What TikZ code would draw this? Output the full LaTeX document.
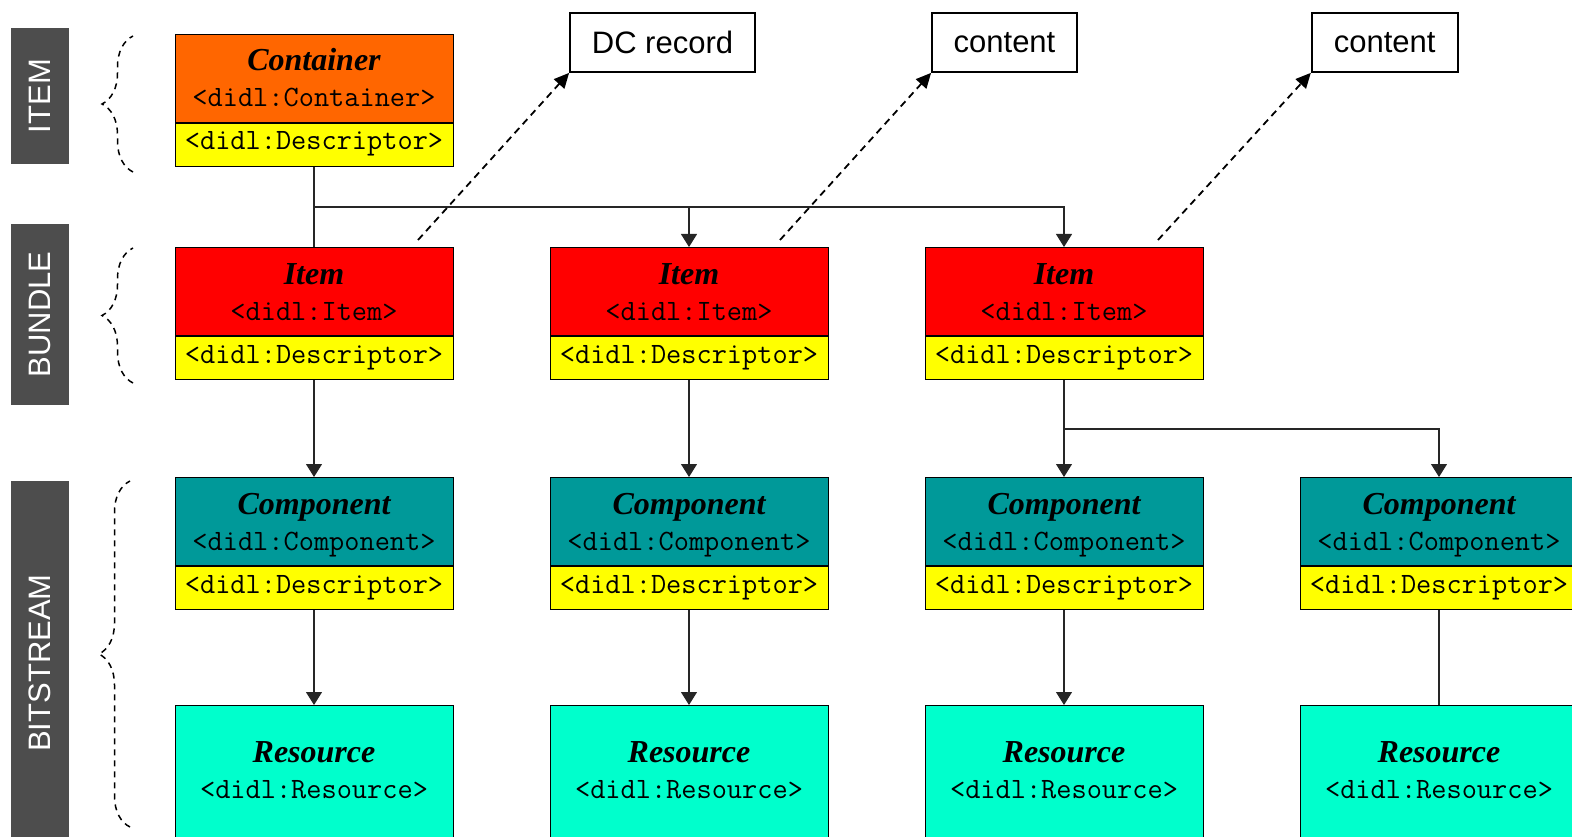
\documentclass[tikz,border=0pt]{standalone}
\usepackage{fontspec}
\setmainfont{Liberation Serif}
\newfontfamily\labelfont{Liberation Sans}
\usetikzlibrary{arrows.meta,decorations.pathreplacing}

\definecolor{containerc}{HTML}{FF6600}
\definecolor{itemc}{HTML}{FF0000}
\definecolor{componentc}{HTML}{009999}
\definecolor{resourcec}{HTML}{00FFCC}
\definecolor{descc}{HTML}{FFFF00}
\definecolor{bandc}{HTML}{4D4D4D}

% one DIDL element: coloured head plus its yellow descriptor strip
% #1 name, #2 centre x, #3 top y, #4 fill, #5 title, #6 tag
\newcommand\didlelem[6]{%
  \node[head, fill=#4] (#1) at (#2,#3) {};
  \node[desc] (#1d) at (#1.south) {};
  \node[ttl] (#1t) at (#2,#3+37) {#5};
  \node[tag] (#1g) at (#2,#3+73) {#6};
  \node[tag] (#1k) at (#2,#3+116) {<didl:Descriptor>};
}
% resource box: #1 name, #2 centre x
\newcommand\didlres[2]{%
  \node[part, minimum height=160pt, fill=resourcec] (#1) at (#2,705) {};
  \node[ttl] (#1t) at (#2,762) {Resource};
  \node[tag] (#1g) at (#2,798) {<didl:Resource>};
}

\begin{document}
\begin{tikzpicture}[x=1pt,y=-1pt,
  part/.style={draw=black, line width=1pt, minimum width=278pt, inner sep=0pt, anchor=north},
  head/.style={part, minimum height=88pt},
  desc/.style={part, minimum height=43pt, fill=descc},
  ttl/.style={anchor=base, inner sep=0pt, font=\fontsize{32}{38}\selectfont\bfseries\itshape},
  tag/.style={anchor=base, inner sep=0pt, font=\fontsize{29.5}{34}\selectfont\ttfamily},
  band/.style={fill=bandc, rotate=90, minimum height=58pt, inner sep=0pt, text=white,
    font=\labelfont\fontsize{31}{36}\selectfont},
  brc/.style={draw=black, line width=1.5pt, dash pattern=on 6pt off 5pt,
    decorate, decoration={brace, amplitude=31pt}},
  ref/.style={draw=black, line width=1.8pt, inner sep=0pt, minimum height=59pt,
    font=\labelfont\fontsize{31}{36}\selectfont},
  conn/.style={draw=black!85, line width=1.1pt},
  arr/.style={conn, -{Triangle[length=13pt,width=16pt]}},
  dsh/.style={draw=black, line width=1.8pt, dash pattern=on 7pt off 5pt,
    -{Triangle[length=15pt,width=14pt]}},
]
\useasboundingbox (0,0) rectangle (1572,837);
\clip (0,0) rectangle (1572,837);

% level bands on the left
\node[band, minimum width=136pt] (bitem) at (40,96) {ITEM};
\node[band, minimum width=181pt] (bbundle) at (40,314.5) {BUNDLE};
\node[band, minimum width=364pt] (bbit) at (40,663) {BITSTREAM};

% dashed braces
\draw[brc] (133,172) -- (133,36);
\draw[brc] (133,383) -- (133,248);
\draw[brc] (130,827) -- (130,481);

% container
\didlelem{con}{314}{34}{containerc}{Container}{<didl:Container>}
% items
\didlelem{ita}{314}{247}{itemc}{Item}{<didl:Item>}
\didlelem{itb}{689}{247}{itemc}{Item}{<didl:Item>}
\didlelem{itc}{1064}{247}{itemc}{Item}{<didl:Item>}
% components
\didlelem{cpa}{314}{477}{componentc}{Component}{<didl:Component>}
\didlelem{cpb}{689}{477}{componentc}{Component}{<didl:Component>}
\didlelem{cpc}{1064}{477}{componentc}{Component}{<didl:Component>}
\didlelem{cpd}{1439}{477}{componentc}{Component}{<didl:Component>}
% resources
\didlres{rsa}{314}
\didlres{rsb}{689}
\didlres{rsc}{1064}
\didlres{rsd}{1439}

% referenced records
\node[ref, minimum width=185pt] (dc) at (662.5,42.5) {DC record};
\node[ref, minimum width=145pt] (cta) at (1004.5,42.5) {content};
\node[ref, minimum width=146pt] (ctb) at (1384.7,42.5) {content};

% container to items
\coordinate (jc) at (314,207);
\draw[conn] (cond.south) -- (ita.north);
\draw[arr] (jc) -| (itc.north);
\draw[arr] (jc -| itb.north) -- (itb.north);

% items to components
\draw[arr] (itad.south) -- (cpa.north);
\draw[arr] (itbd.south) -- (cpb.north);
\draw[arr] (itcd.south) -- (cpc.north);
\coordinate (ji) at (1064,429);
\draw[arr] (ji) -| (cpd.north);

% components to resources
\draw[arr] (cpad.south) -- (rsa.north);
\draw[arr] (cpbd.south) -- (rsb.north);
\draw[arr] (cpcd.south) -- (rsc.north);
\draw[conn] (cpdd.south) -- (rsd.north);

% descriptor references
\coordinate (da) at (418,240);
\coordinate (db) at (780,240);
\coordinate (dd) at (1158,240);
\draw[dsh] (da) -- (dc.south west);
\draw[dsh] (db) -- (cta.south west);
\draw[dsh] (dd) -- (ctb.south west);
\end{tikzpicture}
\end{document}
